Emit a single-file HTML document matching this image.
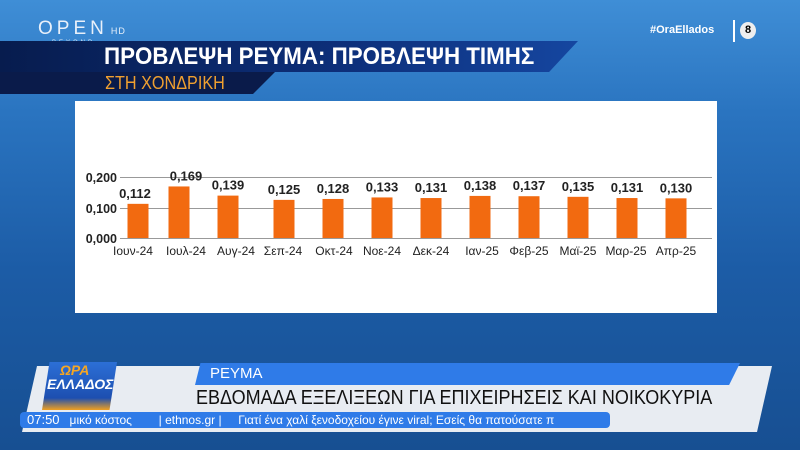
<!DOCTYPE html>
<html><head><meta charset="utf-8"><style>
*{margin:0;padding:0;box-sizing:border-box}
body{width:800px;height:450px;overflow:hidden;position:relative;font-family:"Liberation Sans",sans-serif;
background:linear-gradient(180deg,#3f8ed6 0%,#2a74c0 25%,#1c5ca6 60%,#174f92 100%)}
.abs{position:absolute}
</style></head><body>
<div class="abs" style="left:38px;top:18px;color:#e8f0fa;font-size:19px;letter-spacing:4px">OPEN<span style="font-size:9px;letter-spacing:1px;margin-left:3px">HD</span></div>
<div class="abs" style="left:52px;top:40px;color:#dce7f4;font-size:6px;letter-spacing:3px">BEYOND</div>
<div class="abs" style="left:650px;top:24px;color:#fff;font-size:11px;font-weight:bold">#OraEllados</div>
<div class="abs" style="left:733px;top:20px;width:2px;height:22px;background:#fff"></div>
<div class="abs" style="left:740px;top:22px;width:16px;height:17px;border-radius:50%;background:#eee;color:#000;font-size:11px;font-weight:bold;text-align:center;line-height:17px">8</div>
<div class="abs" style="left:0;top:41px;width:578px;height:31px;background:linear-gradient(90deg,#071c4e,#0d2f7a 60%,#1546a0);clip-path:polygon(0 0,100% 0,95% 100%,0 100%)"></div>
<div class="abs" style="left:104px;top:43px;color:#fff;font-size:24px;font-weight:bold;transform:scaleX(0.93);transform-origin:left;white-space:nowrap">ΠΡΟΒΛΕΨΗ ΡΕΥΜΑ: ΠΡΟΒΛΕΨΗ ΤΙΜΗΣ</div>
<div class="abs" style="left:0;top:72px;width:275px;height:22px;background:#0a1b4a;clip-path:polygon(0 0,100% 0,92% 100%,0 100%)"></div>
<div class="abs" style="left:105px;top:73px;color:#f0a030;font-size:18px;transform:scaleX(0.9);transform-origin:left;white-space:nowrap">ΣΤΗ ΧΟΝΔΡΙΚΗ</div>
<div class="abs" style="left:75px;top:101px;width:642px;height:212px;background:#fff"></div>
<svg class="abs" style="left:0;top:0" width="800" height="450">
<g stroke="#999" stroke-width="1"><line x1="120" y1="177.5" x2="712" y2="177.5"/><line x1="120" y1="208.5" x2="712" y2="208.5"/><line x1="120" y1="238.5" x2="712" y2="238.5"/></g>
<g font-family="Liberation Sans" font-size="12.5" font-weight="bold" fill="#222" text-anchor="end">
<text x="117" y="182">0,200</text><text x="117" y="213">0,100</text><text x="117" y="243">0,000</text></g>
<g id="bars" fill="#f26a10"></g>
<g font-family="Liberation Sans" font-size="13" font-weight="bold" fill="#222" text-anchor="middle" id="vals"></g>
<g font-family="Liberation Sans" font-size="12" fill="#222" text-anchor="middle" id="labs"></g>
</svg>
<div class="abs" style="left:22px;top:366px;width:750px;height:66px;background:#e8ecf2;clip-path:polygon(2% 0,100% 0,98% 100%,0 100%)"></div>
<div class="abs" style="left:195px;top:363px;width:545px;height:22px;background:#2f7be8;clip-path:polygon(1% 0,100% 0,98% 100%,0 100%)"></div>
<div class="abs" style="left:210px;top:365px;color:#fff;font-size:15px">ΡΕΥΜΑ</div>
<div class="abs" style="left:196px;top:387px;color:#111;font-size:20px;transform:scaleX(0.9);transform-origin:left;white-space:nowrap">ΕΒΔΟΜΑΔΑ ΕΞΕΛΙΞΕΩΝ ΓΙΑ ΕΠΙΧΕΙΡΗΣΕΙΣ ΚΑΙ ΝΟΙΚΟΚΥΡΙΑ</div>
<div class="abs" style="left:42px;top:362px;width:75px;height:48px;background:linear-gradient(180deg,#2c6fd6,#1d4fb0 75%,#f0a020 100%);clip-path:polygon(10% 0,100% 0,90% 100%,0 100%)"></div>
<div class="abs" style="left:60px;top:362px;color:#f5a623;font-size:14px;font-style:italic;font-weight:bold">ΩΡΑ</div>
<div class="abs" style="left:47px;top:376px;color:#fff;font-size:14px;font-style:italic;font-weight:bold">ΕΛΛΑΔΟΣ</div>
<div class="abs" style="left:20px;top:412px;width:590px;height:16px;background:#2f7be8;border-radius:4px"></div>
<div class="abs" style="left:27px;top:412px;color:#fff;font-size:12px;white-space:nowrap;line-height:16px"><span style="font-size:13px">07:50</span>&nbsp;&nbsp; μικό κόστος &nbsp;&nbsp;&nbsp;&nbsp;&nbsp;&nbsp;&nbsp;| ethnos.gr | &nbsp;&nbsp;&nbsp;&nbsp;Γιατί ένα χαλί ξενοδοχείου έγινε viral; Εσείς θα πατούσατε π</div>
<script>
var v=[0.112,0.169,0.139,0.125,0.128,0.133,0.131,0.138,0.137,0.135,0.131,0.130];
var l=["Ιουν-24","Ιουλ-24","Αυγ-24","Σεπ-24","Οκτ-24","Νοε-24","Δεκ-24","Ιαν-25","Φεβ-25","Μαϊ-25","Μαρ-25","Απρ-25"];
var cx=[138,179,228,284,333,382,431,480,529,578,627,676];
var ns="http://www.w3.org/2000/svg",b=document.getElementById("bars"),vs=document.getElementById("vals"),ls=document.getElementById("labs");
for(var i=0;i<12;i++){var h=v[i]*305,y=238-h;
var r=document.createElementNS(ns,"rect");r.setAttribute("x",cx[i]-10.5);r.setAttribute("y",y);r.setAttribute("width",21);r.setAttribute("height",h);b.appendChild(r);
var t=document.createElementNS(ns,"text");t.setAttribute("x",cx[i]+(i==0?-3:i==1?7:0));t.setAttribute("y",y-6);t.textContent=v[i].toFixed(3).replace(".",",");vs.appendChild(t);
var t2=document.createElementNS(ns,"text");t2.setAttribute("x",[133,186,236,283,334,382,431,482,529,578,626,676][i]);t2.setAttribute("y",255);t2.textContent=l[i];ls.appendChild(t2);}
</script>
</body></html>
